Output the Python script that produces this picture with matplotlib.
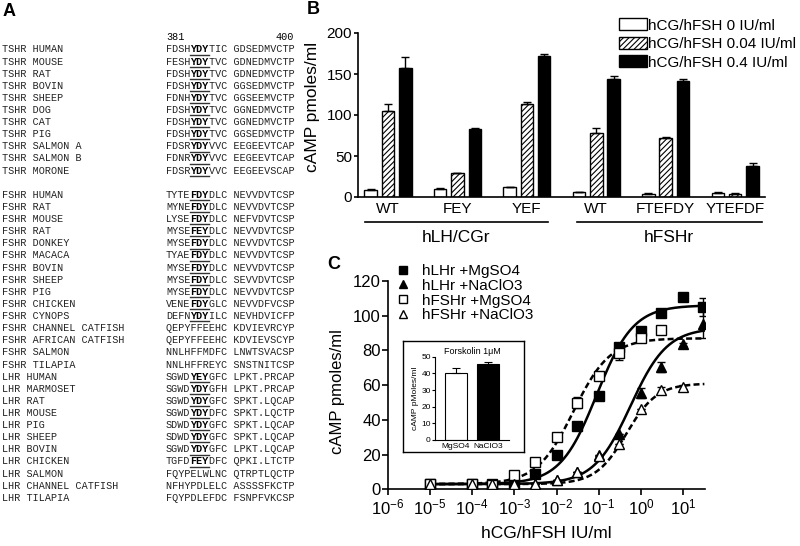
import numpy as np
import matplotlib
matplotlib.use("Agg")
import matplotlib.pyplot as plt
from matplotlib.patches import Patch
from matplotlib.lines import Line2D
from matplotlib.ticker import LogLocator, NullLocator, MultipleLocator

plt.rcParams['font.family'] = ['Liberation Sans', 'DejaVu Sans']
plt.rcParams['mathtext.fontset'] = 'custom'
plt.rcParams['mathtext.rm'] = 'Liberation Sans'
plt.rcParams['mathtext.it'] = 'Liberation Sans:italic'
plt.rcParams['hatch.linewidth'] = 0.8

# ---------------- panel A: alignment ----------------
tshr_names = ["TSHR HUMAN", "TSHR MOUSE", "TSHR RAT", "TSHR BOVIN", "TSHR SHEEP",
              "TSHR DOG", "TSHR CAT", "TSHR PIG", "TSHR SALMON A", "TSHR SALMON B",
              "TSHR MORONE"]
tshr_seqs = ["FDSHYDYTIC GDSEDMVCTP", "FESHYDYTVC GDNEDMVCTP", "FDSHYDYTVC GDNEDMVCTP",
             "FDSHYDYTVC GGSEDMVCTP", "FDNHYDYTVC GGSEEMVCTP", "FDSHYDYTVC GGNEDMVCTP",
             "FDSHYDYTVC GGNEDMVCTP", "FDSHYDYTVC GGSEDMVCTP", "FDSRYDYVVC EEGEEVTCAP",
             "FDNRYDYVVC EEGEEVTCAP", "FDSRYDYVVC EEGEEVSCAP"]
tshr_motif = [1] * 11

fshr_names = ["FSHR HUMAN", "FSHR RAT", "FSHR MOUSE", "FSHR RAT", "FSHR DONKEY",
              "FSHR MACACA", "FSHR BOVIN", "FSHR SHEEP", "FSHR PIG", "FSHR CHICKEN",
              "FSHR CYNOPS", "FSHR CHANNEL CATFISH", "FSHR AFRICAN CATFISH",
              "FSHR SALMON", "FSHR TILAPIA"]
fshr_seqs = ["TYTEFDYDLC NEVVDVTCSP", "MYNEFDYDLC NEVVDVTCSP", "LYSEFDYDLC NEFVDVTCSP",
             "MYSEFEYDLC NEVVDVTCSP", "MYSEFDYDLC NEVVDVTCSP", "TYAEFDYDLC NEVVDVTCSP",
             "MYSEFDYDLC NEVVDVTCSP", "MYSEFDYDLC SEVVDVTCSP", "MYSEFDYDLC NEVVDVTCSP",
             "VENEFDYGLC NEVVDFVCSP", "DEFNYDYILC NEVHDVICFP", "QEPYFFEEHC KDVIEVRCYP",
             "QEPYFFEEHC KDVIEVSCYP", "NNLHFFMDFC LNWTSVACSP", "NNLHFFREYC SNSTNITCSP"]
fshr_motif = [1] * 11 + [0] * 4

lhr_names = ["LHR HUMAN", "LHR MARMOSET", "LHR RAT", "LHR MOUSE", "LHR PIG", "LHR SHEEP",
             "LHR BOVIN", "LHR CHICKEN", "LHR SALMON", "LHR CHANNEL CATFISH", "LHR TILAPIA"]
lhr_seqs = ["SGWDYEYGFC LPKT.PRCAP", "SGWDYDYGFH LPKT.PRCAP", "SGWDYDYGFC SPKT.LQCAP",
            "SGWDYDYDFC SPKT.LQCTP", "SDWDYDYGFC SPKT.LQCAP", "SDWDYDYGFC SPKT.LQCAP",
            "SGWDYDYGFC LPKT.LQCAP", "TGFDFEYDFC QPKI.LTCTP", "FQYPELWLNC QTRPTLQCTP",
            "NFHYPDLELC ASSSSFKCTP", "FQYPDLEFDC FSNPFVKCSP"]
lhr_motif = [1] * 8 + [0] * 3

# ---------------- panel B: bars ----------------
b_groups = ["WT", "FEY", "YEF", "WT", "FTEFDY", "YTEFDF"]
b_receptors = ["hLH/CGr", "hFSHr"]
b_labels = ["hCG/hFSH 0 IU/ml", "hCG/hFSH 0.04 IU/ml", "hCG/hFSH 0.4 IU/ml"]
b_dose0 = [9, 10, 12, 5.5, 4, 5]
b_dose0_err = [0.8, 0.6, 0.8, 0.8, 0.5, 1]
b_dose004 = [105, 29, 113, 78, 71.5, 3.5]
b_dose004_err = [9, 0.6, 2.5, 6, 2, 1]
b_dose04 = [157, 83, 172, 144, 142, 38]
b_dose04_err = [14, 0.6, 2, 4, 1.5, 3]

# ---------------- panel C: dose response ----------------
doses = [1e-5, 1e-4, 3e-4, 1e-3, 3e-3, 1e-2, 3e-2, 0.1, 0.3, 1, 3, 10, 30]
lh_mg = [3, 3, 3, 3.5, 9, 20, 36.5, 54, 82, 91, 101.5, 111, 105]
lh_mg_err = [0, 0, 0, 0, 0, 0, 0, 1.5, 0, 0, 0, 0, 5]
lh_na = [3, 3, 2.5, 2.5, 3, 5.5, 10, 20, 32, 55.5, 70.5, 83.5, 95]
lh_na_err = [0, 0, 0, 0, 0, 0, 0, 0, 0, 3, 3, 1, 8]
fsh_mg = [3, 3, 2.5, 8, 15.6, 30.4, 50, 65, 78.5, 87, 91.5, np.nan, np.nan]
fsh_mg_err = [0, 0, 0, 0, 0, 0, 3, 0, 4, 0, 0, 0, 0]
fsh_na = [3, 3, 3, 3, 3, 5.5, 10, 19, 26, 46.5, 57, 59, np.nan]
fsh_na_err = [0, 0, 0, 0, 0, 0, 0, 0, 0, 0, 2, 1, 0]
c_labels = ["hLHr +MgSO4", "hLHr +NaClO3", "hFSHr +MgSO4", "hFSHr +NaClO3"]
# sigmoid fit parameters
fit_bottom = [3, 3, 3, 3]
fit_top = [106, 93, 87, 61]
fit_logec50 = [-1.05, -0.25, -1.6, -0.35]
fit_hill = [1.0, 1.0, 1.0, 1.2]

forsk_labels = ["MgSO4", "NaClO3"]
forsk = [40, 45.4]
forsk_err = [3, 1.2]

W, H = 800, 546
fig = plt.figure(figsize=(8, 5.46), dpi=100)


def fx(px):
    return px / W


def fy(py):
    return 1 - py / H


# ---- panel A
mono = 'Liberation Mono'
fs_seq = 7.3
cw = 0.6 * fs_seq * 100 / 72
seq_x = 166
rows = list(zip(tshr_names, tshr_seqs, tshr_motif)) + [None] + \
    list(zip(fshr_names, fshr_seqs, fshr_motif)) + list(zip(lhr_names, lhr_seqs, lhr_motif))
fig.text(fx(seq_x), fy(39.5), "381", family=mono, size=fs_seq, va='baseline')
fig.text(fx(seq_x + 21 * cw), fy(39.5), "400", family=mono, size=fs_seq, va='baseline', ha='right')
for i, row in enumerate(rows):
    if row is None:
        continue
    name, seq, motif = row
    yc = 49 + 12.12 * i
    yb = fy(yc + 3.4)
    fig.text(fx(2), yb, name, family=mono, size=fs_seq, va='baseline', color='#222222')
    if motif:
        fig.text(fx(seq_x), yb, seq[:4], family=mono, size=fs_seq, va='baseline', color='#222222')
        fig.text(fx(seq_x + 4 * cw), yb, seq[4:7], family=mono, size=fs_seq,
                 va='baseline', weight='bold')
        fig.text(fx(seq_x + 7 * cw), yb, seq[7:], family=mono, size=fs_seq, va='baseline',
                 color='#222222')
        fig.add_artist(Line2D([fx(seq_x + 4 * cw), fx(seq_x + 7 * cw)],
                              [fy(yc + 5.6)] * 2, color='#333333', lw=1.0))
    else:
        fig.text(fx(seq_x), yb, seq, family=mono, size=fs_seq, va='baseline', color='#222222')

fig.text(fx(3), fy(11), "A", size=13, weight='bold', va='center')
fig.text(fx(307), fy(10), "B", size=13, weight='bold', va='center')
fig.text(fx(327), fy(264), "C", size=13, weight='bold', va='center')

# ---- panel B
axb = fig.add_axes([fx(357.5), fy(197), fx(765) - fx(357.5), fy(33) - fy(197)])
xb = np.arange(len(b_groups))
off, bw = 0.25, 0.18
ekw = dict(lw=1, capthick=1)
z = np.zeros(len(b_groups))
axb.bar(xb - off, b_dose0, bw, yerr=[z, b_dose0_err], color='white', edgecolor='black',
        lw=1, capsize=3, error_kw=ekw)
axb.bar(xb, b_dose004, bw, yerr=[z, b_dose004_err], color='white', edgecolor='black',
        hatch='//////', lw=1, capsize=3, error_kw=ekw)
axb.bar(xb + off, b_dose04, bw, yerr=[z, b_dose04_err], color='black', edgecolor='black',
        lw=1, capsize=3, error_kw=ekw)
axb.set_xlim(-0.44, 5.43)
axb.set_ylim(0, 200)
axb.set_yticks([0, 50, 100, 150, 200])
axb.set_xticks(xb, b_groups)
axb.tick_params(axis='x', length=0, pad=3.5, labelsize=11)
axb.tick_params(axis='y', length=3, width=1.2, pad=1, labelsize=11)
for s in ['top', 'right']:
    axb.spines[s].set_visible(False)
for s in ['left', 'bottom']:
    axb.spines[s].set_linewidth(1.2)
axb.set_ylabel("cAMP pmoles/ml", fontsize=12.5, labelpad=2)
axb.yaxis.set_label_coords(-0.092, 0.55)
tr = axb.get_xaxis_transform()
for lab, (a, b) in zip(b_receptors, [(-0.33, 2.30), (2.72, 5.38)]):
    axb.plot([a, b], [-0.152, -0.152], color='black', lw=1.2, transform=tr, clip_on=False)
    axb.text((a + b) / 2, -0.245, lab, transform=tr, ha='center', va='center', fontsize=12.5)
hb = [Patch(facecolor='white', edgecolor='black', lw=1),
      Patch(facecolor='white', edgecolor='black', hatch='//////', lw=1),
      Patch(facecolor='black', edgecolor='black', lw=1)]
axb.legend(hb, b_labels, loc='upper left', bbox_to_anchor=(fx(619), fy(18.5)),
           bbox_transform=fig.transFigure, frameon=False, fontsize=11, handlelength=1.8,
           handleheight=0.8, handletextpad=0.1, labelspacing=0.28, borderpad=0,
           borderaxespad=0)

# ---- panel C
axc = fig.add_axes([fx(387.8), fy(489.3), fx(705) - fx(387.8), fy(281) - fy(489.3)])
axc.set_xscale('log')
styles = [('s', 'black', '-'), ('^', 'black', '-'), ('s', 'white', (0, (2.4, 1.3))),
          ('^', 'white', (0, (2.4, 1.3)))]
series = [(lh_mg, lh_mg_err), (lh_na, lh_na_err), (fsh_mg, fsh_mg_err), (fsh_na, fsh_na_err)]
xs = np.logspace(-5, 1.5, 300)
handles = []
for k, ((yv, ye), (mk, fc, ls)) in enumerate(zip(series, styles)):
    curve = fit_bottom[k] + (fit_top[k] - fit_bottom[k]) / \
        (1 + 10 ** ((fit_logec50[k] - np.log10(xs)) * fit_hill[k]))
    axc.plot(xs, curve, color='black', lw=1.8, ls=ls, zorder=2)
    axc.errorbar(doses, yv, yerr=ye, fmt=mk, mfc=fc, mec='black', mew=1, ms=6.5,
                 ecolor='black', elinewidth=1, capsize=3, zorder=3)
    handles.append(Line2D([], [], marker=mk, mfc=fc, mec='black', mew=1, ms=6, ls='none'))
axc.set_xlim(1e-6, 10 ** 1.515)
axc.set_ylim(0, 120)
axc.yaxis.set_major_locator(MultipleLocator(20))
axc.xaxis.set_major_locator(LogLocator(base=10, numticks=20))
axc.xaxis.set_minor_locator(NullLocator())
axc.tick_params(axis='both', length=4, width=1.2, labelsize=12)
axc.tick_params(axis='x', pad=2)
axc.tick_params(axis='y', pad=1)
for s in ['top', 'right']:
    axc.spines[s].set_visible(False)
for s in ['left', 'bottom']:
    axc.spines[s].set_linewidth(1.2)
axc.set_xlabel("hCG/hFSH IU/ml", fontsize=12.5, labelpad=6)
axc.set_ylabel("cAMP pmoles/ml", fontsize=12, labelpad=4)
axc.yaxis.set_label_coords(-0.135, 0.47)
axc.legend(handles, c_labels, loc='upper left', bbox_to_anchor=(fx(395), fy(264)),
           bbox_transform=fig.transFigure, frameon=False, fontsize=11, handlelength=1.0,
           handletextpad=0.8, labelspacing=0.05, borderpad=0, borderaxespad=0)

# inset
frame = fig.add_axes([fx(403), fy(452), fx(524) - fx(403), fy(341) - fy(452)])
frame.set_xticks([])
frame.set_yticks([])
for s in frame.spines.values():
    s.set_linewidth(1.0)
ins = fig.add_axes([fx(435), fy(440), fx(509) - fx(435), fy(356.7) - fy(440)])
ins.bar([0, 1], forsk, 0.69, yerr=[[0, 0], forsk_err], color=['white', 'black'],
        edgecolor='black', lw=0.8, capsize=3, error_kw=dict(lw=0.8, capthick=0.8))
ins.set_xlim(-0.656, 1.656)
ins.set_ylim(0, 50)
ins.set_yticks(range(0, 60, 10))
ins.set_xticks([0, 1], forsk_labels)
ins.tick_params(axis='x', length=0, pad=2, labelsize=6)
ins.tick_params(axis='y', length=2, width=0.8, pad=1, labelsize=6)
for s in ['top', 'right']:
    ins.spines[s].set_visible(False)
for s in ['left', 'bottom']:
    ins.spines[s].set_linewidth(0.8)
ins.set_title("Forskolin 1μM", fontsize=6.5, pad=2)
ins.set_ylabel("cAMP pMoles/ml", fontsize=6, labelpad=2)

fig.savefig("out.png", dpi=100)
